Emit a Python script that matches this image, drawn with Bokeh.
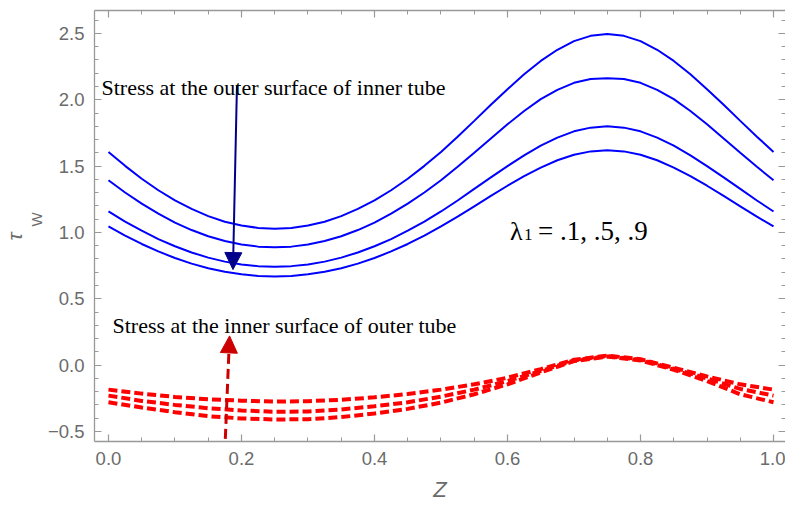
from bokeh.plotting import figure
from bokeh.models import (Range1d, LinearAxis, SingleIntervalTicker, CustomJSTickFormatter,
                          Label, Arrow, NormalHead, Title)
from bokeh.embed import file_html
from bokeh.resources import INLINE

# ---------------- data ----------------
z_fine = [0.000, 0.025, 0.050, 0.075, 0.100, 0.125, 0.150, 0.175, 0.200, 0.225, 0.250,
          0.275, 0.300, 0.325, 0.350, 0.375, 0.400, 0.425, 0.450, 0.475, 0.500,
          0.525, 0.550, 0.575, 0.600, 0.625, 0.650, 0.675, 0.700, 0.725, 0.750,
          0.775, 0.800, 0.825, 0.850, 0.875, 0.900, 0.925, 0.950, 0.975, 1.000]

# stress at the outer surface of inner tube (solid blue)
tau_inner_1 = [1.607, 1.502, 1.405, 1.318, 1.242, 1.177, 1.123, 1.081, 1.052, 1.034, 1.028,
               1.034, 1.052, 1.081, 1.123, 1.177, 1.242, 1.318, 1.405, 1.502, 1.607,
               1.722, 1.841, 1.962, 2.080, 2.192, 2.293, 2.377, 2.442, 2.482, 2.495,
               2.482, 2.442, 2.377, 2.293, 2.192, 2.080, 1.962, 1.841, 1.722, 1.607]
tau_inner_2 = [1.393, 1.301, 1.217, 1.141, 1.074, 1.018, 0.971, 0.935, 0.909, 0.893, 0.888,
               0.893, 0.909, 0.935, 0.971, 1.018, 1.074, 1.141, 1.217, 1.301, 1.393,
               1.495, 1.600, 1.708, 1.815, 1.915, 2.005, 2.075, 2.128, 2.156, 2.163,
               2.156, 2.128, 2.075, 2.005, 1.915, 1.815, 1.708, 1.600, 1.495, 1.393]
tau_inner_3 = [1.158, 1.082, 1.013, 0.950, 0.896, 0.849, 0.810, 0.780, 0.759, 0.746, 0.742,
               0.746, 0.759, 0.780, 0.810, 0.849, 0.896, 0.950, 1.013, 1.082, 1.158,
               1.241, 1.328, 1.415, 1.500, 1.581, 1.654, 1.715, 1.762, 1.790, 1.800,
               1.790, 1.762, 1.715, 1.654, 1.581, 1.500, 1.415, 1.328, 1.241, 1.158]
tau_inner_4 = [1.045, 0.976, 0.913, 0.857, 0.807, 0.765, 0.730, 0.703, 0.684, 0.672, 0.668,
               0.672, 0.684, 0.703, 0.730, 0.765, 0.807, 0.857, 0.913, 0.976, 1.045,
               1.119, 1.197, 1.275, 1.352, 1.424, 1.489, 1.544, 1.586, 1.611, 1.620,
               1.611, 1.586, 1.544, 1.489, 1.424, 1.352, 1.275, 1.197, 1.119, 1.045]

z_coarse = [0.00, 0.05, 0.10, 0.15, 0.20, 0.25, 0.30, 0.35, 0.40, 0.45, 0.50,
            0.55, 0.60, 0.65, 0.70, 0.75, 0.80, 0.85, 0.90, 0.95, 1.00]

# stress at the inner surface of outer tube (dashed red)
tau_outer_1 = [-0.185, -0.215, -0.240, -0.258, -0.268, -0.275, -0.272, -0.262, -0.243, -0.218, -0.185,
               -0.145, -0.095, -0.030, 0.040, 0.072, 0.045, -0.020, -0.085, -0.145, -0.185]
tau_outer_2 = [-0.230, -0.270, -0.300, -0.325, -0.342, -0.352, -0.350, -0.335, -0.310, -0.280, -0.238,
               -0.185, -0.120, -0.045, 0.035, 0.068, 0.040, -0.028, -0.100, -0.180, -0.230]
tau_outer_3 = [-0.280, -0.320, -0.355, -0.385, -0.402, -0.410, -0.408, -0.392, -0.365, -0.330, -0.283,
               -0.220, -0.145, -0.055, 0.030, 0.064, 0.035, -0.035, -0.120, -0.220, -0.280]

inner_series = [tau_inner_1, tau_inner_2, tau_inner_3, tau_inner_4]
outer_series = [tau_outer_1, tau_outer_2, tau_outer_3]

# annotation texts and anchors (data coordinates)
label_outer_text = "Stress at the outer surface of inner tube"
label_inner_text = "Stress at the inner surface of outer tube"
label_lambda_rest = "= .1, .5, .9"
y_axis_symbol = "\u03c4"
y_axis_subscript = "W"
blue_arrow = dict(x_start=0.1932, y_start=2.108, x_end=0.1872, y_end=0.720)
red_arrow = dict(x_start=0.1757, y_start=-0.556, x_end=0.1821, y_end=0.220)

FRAME = "#999999"
TICKLAB = "#6b6b6b"

# ---------------- main figure ----------------
p = figure(width=785, height=506, output_backend="svg", toolbar_location=None,
           x_range=Range1d(-0.021, 1.018), y_range=Range1d(-0.576, 2.673),
           x_axis_location=None, y_axis_location=None,
           min_border_left=93, min_border_right=0, min_border_top=10, min_border_bottom=65)
p.outline_line_color = None
p.background_fill_color = "white"
p.border_fill_color = "white"

fmt = CustomJSTickFormatter(code="return (tick < -1e-9 ? '\\u2212' : '') + Math.abs(tick).toFixed(1);")
blank = CustomJSTickFormatter(code="return '';")


def style(ax, labels):
    ax.axis_line_color = FRAME
    ax.axis_line_width = 1.3
    ax.major_tick_line_color = FRAME
    ax.minor_tick_line_color = FRAME
    ax.major_tick_in = 7
    ax.major_tick_out = 0
    ax.minor_tick_in = 4
    ax.minor_tick_out = 0
    ax.major_tick_line_width = 1.2
    ax.minor_tick_line_width = 1
    if labels:
        ax.formatter = fmt
        ax.major_label_text_font = "Liberation Sans"
        ax.major_label_text_font_size = "18.5px"
        ax.major_label_text_color = TICKLAB
        ax.major_label_standoff = 10
    else:
        ax.formatter = blank
        ax.major_label_standoff = 0
        ax.major_label_text_font_size = "1px"


xb = LinearAxis(ticker=SingleIntervalTicker(interval=0.2, num_minor_ticks=4))
style(xb, True)
xb.axis_label = "Z"
xb.axis_label_text_font = "Liberation Sans"
xb.axis_label_text_font_style = "italic"
xb.axis_label_text_font_size = "22px"
xb.axis_label_text_color = TICKLAB
xb.axis_label_standoff = 9
p.add_layout(xb, "below")

xt = LinearAxis(ticker=SingleIntervalTicker(interval=0.2, num_minor_ticks=4))
style(xt, False)
p.add_layout(xt, "above")

yl = LinearAxis(ticker=SingleIntervalTicker(interval=0.5, num_minor_ticks=5))
style(yl, True)
p.add_layout(yl, "left")

# y-axis title tau_W, built from two rotated titles in the left margin
# (align="left" on a left title starts the text at the bottom; offset moves it up)
p.add_layout(Title(text=y_axis_subscript, align="left", offset=215, standoff=0,
                   text_font="Liberation Sans", text_font_size="15px", text_font_style="normal",
                   text_line_height=1.0, text_color=TICKLAB), "left")
p.add_layout(Title(text=y_axis_symbol, align="left", offset=201, standoff=0,
                   text_font="Liberation Sans", text_font_size="21px", text_font_style="italic",
                   text_line_height=1.0, text_color=TICKLAB), "left")

yr = LinearAxis(ticker=SingleIntervalTicker(interval=0.5, num_minor_ticks=5))
style(yr, False)
yr.axis_line_color = None
p.add_layout(yr, "right")

p.grid.visible = False

# ---------------- curves ----------------
for ys in inner_series:
    p.line(z_fine, ys, line_color="#0000ff", line_width=2)

for ys in outer_series:
    p.line(z_coarse, ys, line_color="#ff0000", line_width=4, line_dash="9 4")

# ---------------- arrows ----------------
p.add_layout(Arrow(end=NormalHead(size=17, fill_color="#00008b", line_color="#00008b"),
                   line_color="#00008b", line_width=2, **blue_arrow))
p.add_layout(Arrow(end=NormalHead(size=17, fill_color="#cc0000", line_color="#cc0000"),
                   line_color="#cc0000", line_width=3, line_dash="10 5", **red_arrow))

# ---------------- texts ----------------
serif = "Liberation Serif"
p.add_layout(Label(x=-0.0105, y=2.095, text=label_outer_text, text_font=serif,
                   text_font_size="22px", text_color="black", text_baseline="alphabetic"))
p.add_layout(Label(x=0.006, y=0.295, text=label_inner_text, text_font=serif,
                   text_font_size="22px", text_color="black", text_baseline="alphabetic"))
p.add_layout(Label(x=0.6036, y=1.008, text="\u03bb", text_font=serif,
                   text_font_size="26px", text_color="black", text_baseline="alphabetic"))
p.add_layout(Label(x=0.6036, y=1.008, x_offset=14, y_offset=-3, text="1", text_font=serif,
                   text_font_size="17px", text_color="black", text_baseline="alphabetic"))
p.add_layout(Label(x=0.6036, y=1.008, x_offset=28, text=label_lambda_rest, text_font=serif,
                   text_font_size="27px", text_color="black", text_baseline="alphabetic"))

open("out.html", "w").write(file_html(p, INLINE))
